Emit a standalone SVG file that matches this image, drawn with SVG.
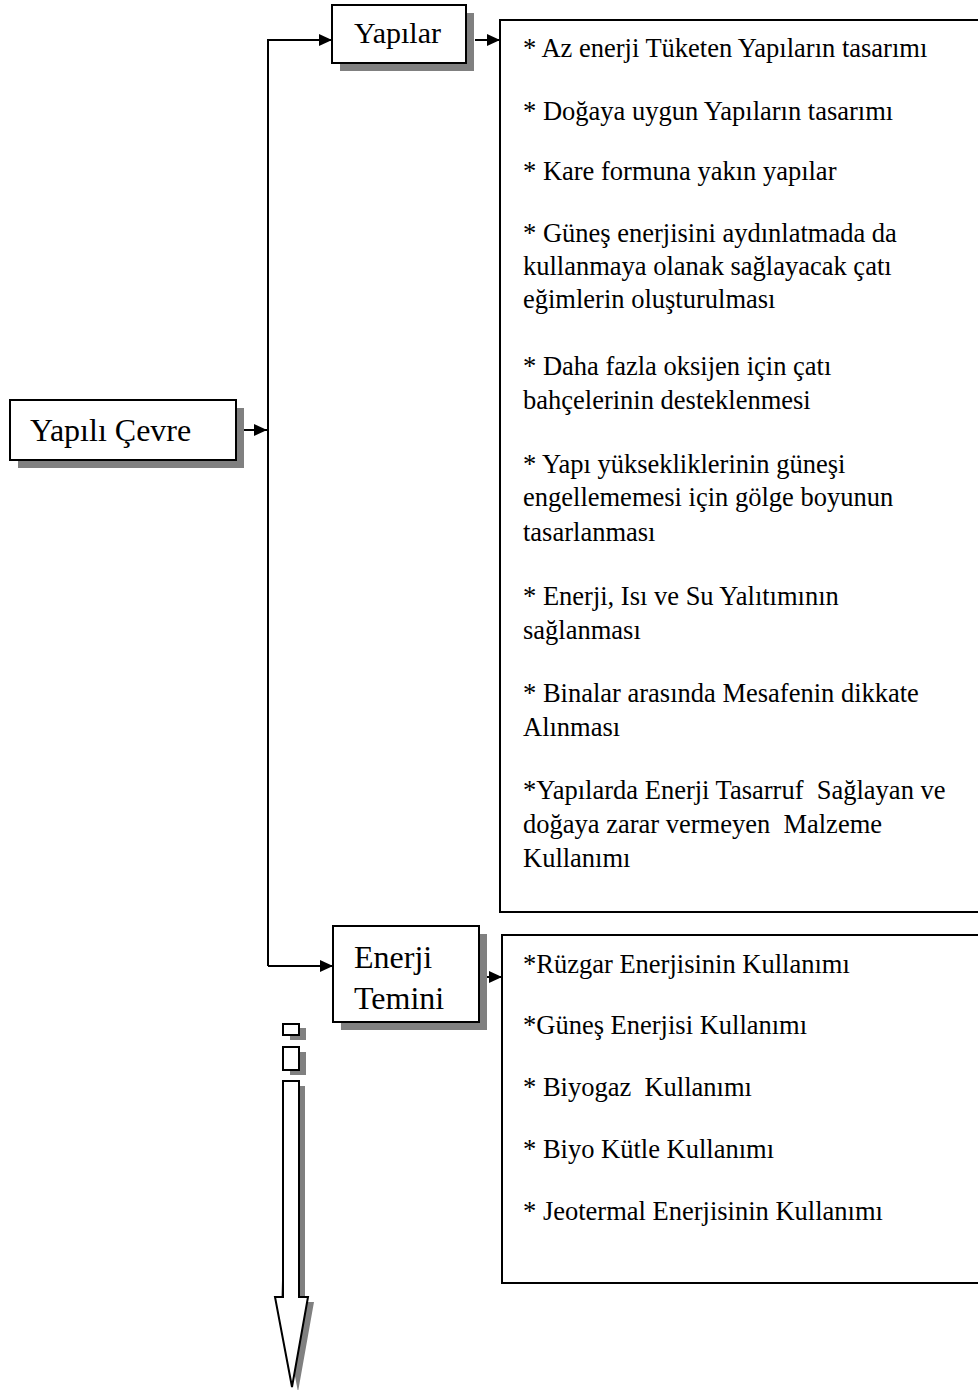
<svg xmlns="http://www.w3.org/2000/svg" width="978" height="1390" viewBox="0 0 978 1390">
<style>
.box{fill:#fff;stroke:#000;stroke-width:2}
.sh{fill:#808080}
.lbl{font-family:"Liberation Serif","Times New Roman",serif;font-size:31px;fill:#000}
.t{font-family:"Liberation Serif","Times New Roman",serif;font-size:26.5px;fill:#000}
.ln{fill:none;stroke:#000;stroke-width:2}
</style>
<defs>
<marker id="ah" markerWidth="13" markerHeight="12" refX="13" refY="6" orient="auto" markerUnits="userSpaceOnUse" viewBox="0 0 13 12">
<path d="M0,0 L13,6 L0,12 z" fill="#000"/>
</marker>
</defs>
<g id="connectors">
<path class="ln" d="M244,430 L267,430" marker-end="url(#ah)"/>
<path class="ln" d="M268,966 L268,40 L332,40" marker-end="url(#ah)"/>
<path class="ln" d="M268,966 L333,966" marker-end="url(#ah)"/>
<path class="ln" d="M475,40 L500,40" marker-end="url(#ah)"/>
<path class="ln" d="M487,977 L502,977" marker-end="url(#ah)"/>
</g>
<g id="yapili-cevre">
<rect class="sh" x="18" y="408" width="226" height="60"/>
<rect class="box" x="10" y="400" width="226" height="60"/>
<text class="lbl" x="30" y="441" style="font-size:32px">Yapılı Çevre</text>
</g>
<g id="yapilar">
<rect class="sh" x="340" y="13" width="134" height="58"/>
<rect class="box" x="332" y="5" width="134" height="58"/>
<text class="lbl" x="354" y="43" style="font-size:30px">Yapılar</text>
</g>
<g id="enerji-temini">
<rect class="sh" x="341" y="934" width="146" height="96"/>
<rect class="box" x="333" y="926" width="146" height="96"/>
<text class="lbl" x="354" y="968" style="font-size:32px">Enerji</text>
<text class="lbl" x="354" y="1009" style="font-size:32px">Temini</text>
</g>
<g id="yapilar-list">
<rect class="box" x="500" y="20" width="480" height="892"/>
<text class="t" x="523" y="57">* Az enerji Tüketen Yapıların tasarımı</text>
<text class="t" x="523" y="120">* Doğaya uygun Yapıların tasarımı</text>
<text class="t" x="523" y="180">* Kare formuna yakın yapılar</text>
<text class="t" x="523" y="242">* Güneş enerjisini aydınlatmada da</text>
<text class="t" x="523" y="275">kullanmaya olanak sağlayacak çatı</text>
<text class="t" x="523" y="308">eğimlerin oluşturulması</text>
<text class="t" x="523" y="375">* Daha fazla oksijen için çatı</text>
<text class="t" x="523" y="409">bahçelerinin desteklenmesi</text>
<text class="t" x="523" y="473">* Yapı yüksekliklerinin güneşi</text>
<text class="t" x="523" y="506">engellememesi için gölge boyunun</text>
<text class="t" x="523" y="541">tasarlanması</text>
<text class="t" x="523" y="605">* Enerji, Isı ve Su Yalıtımının</text>
<text class="t" x="523" y="639">sağlanması</text>
<text class="t" x="523" y="702">* Binalar arasında Mesafenin dikkate</text>
<text class="t" x="523" y="736">Alınması</text>
<text class="t" x="523" y="799" xml:space="preserve">*Yapılarda Enerji Tasarruf  Sağlayan ve</text>
<text class="t" x="523" y="833" xml:space="preserve">doğaya zarar vermeyen  Malzeme</text>
<text class="t" x="523" y="867">Kullanımı</text>
</g>
<g id="enerji-list">
<rect class="box" x="502" y="935" width="480" height="348"/>
<text class="t" x="523" y="973">*Rüzgar Enerjisinin Kullanımı</text>
<text class="t" x="523" y="1034">*Güneş Enerjisi Kullanımı</text>
<text class="t" x="523" y="1096" xml:space="preserve">* Biyogaz  Kullanımı</text>
<text class="t" x="523" y="1158">* Biyo Kütle Kullanımı</text>
<text class="t" x="523" y="1220">* Jeotermal Enerjisinin Kullanımı</text>
</g>
<g id="down-arrow">
<rect class="sh" x="290" y="1028" width="16" height="12"/>
<rect class="box" x="283" y="1024" width="16" height="11"/>
<rect class="sh" x="290" y="1052" width="16" height="23"/>
<rect class="box" x="283" y="1047" width="16" height="23"/>
<path class="sh" d="M291,1086 L305,1086 L305,1302 L314,1302 L298,1392 L281,1302 z"/>
<path d="M283,1081 L299,1081 L299,1297 L308,1297 L292,1387 L275,1297 L283,1297 z" fill="#fff" stroke="#000" stroke-width="2"/>
</g>
</svg>
